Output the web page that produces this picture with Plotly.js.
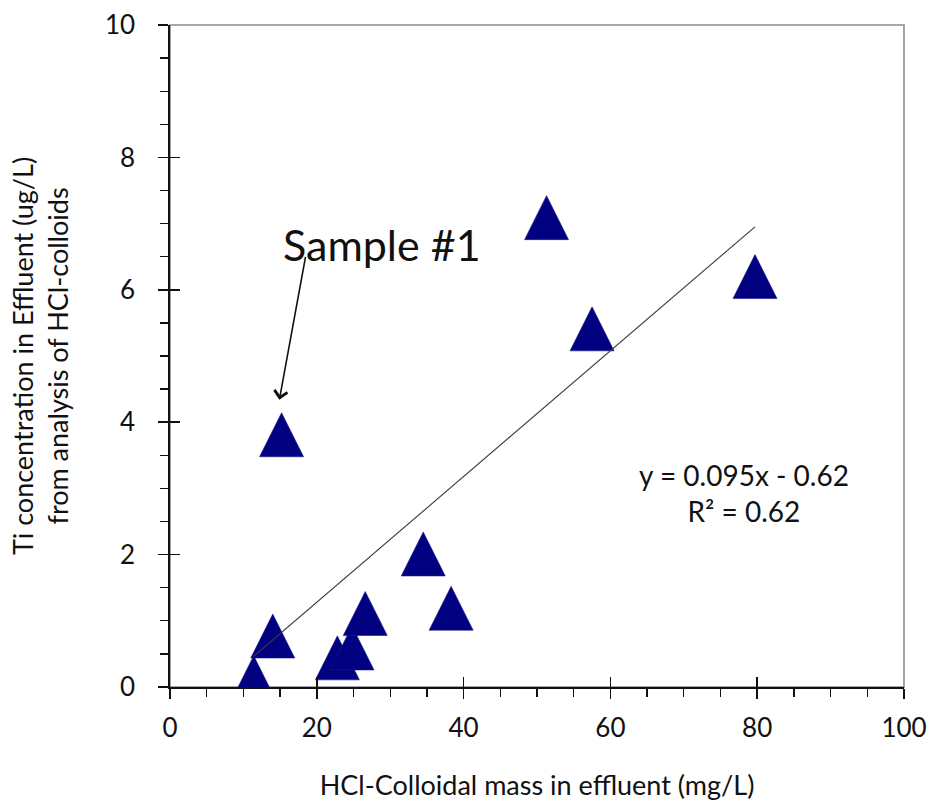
<!DOCTYPE html>
<html>
<head>
<meta charset="utf-8">
<script src="https://cdn.plot.ly/plotly-3.0.1.min.js"></script>
<style>
  html, body { margin: 0; padding: 0; background: #fff; }
  #chart { width: 933px; height: 805px; }
</style>
</head>
<body>
<div id="chart"></div>
<script>
// HCl-colloid mass in effluent (mg/L) and Ti found in those colloids (ug/L)
const massMgL = [11.4, 14.0, 15.2, 22.8, 24.8, 26.6, 34.5, 38.3, 51.3, 57.5, 79.7];
const tiUgL   = [0.14, 0.77, 3.81, 0.44, 0.59, 1.11, 2.01, 1.19, 7.09, 5.41, 6.20];

// Linear fit reported on the chart
const fitSlope = 0.095;
const fitIntercept = -0.62;
const fitR2 = 0.62;

// Sample #1 is the outlier marked with an arrow
const sample1Index = 2;

const xTickVals = [0, 20, 40, 60, 80, 100];
const yTickVals = [0, 2, 4, 6, 8, 10];

const FONT = 'Lato, "Open Sans", sans-serif';
const INK = '#111111';
const NAVY = '#000080';

const xMin = Math.min(...massMgL);
const xMax = Math.max(...massMgL);
const fitX = [xMin, xMax];
const fitY = fitX.map(v => fitSlope * v + fitIntercept);

const markerSize = 44;

const points = {
  type: 'scatter',
  mode: 'markers',
  x: massMgL,
  y: tiUgL,
  xaxis: 'x',
  yaxis: 'y',
  marker: {
    // upward triangle centred on the point, as tall as it is wide
    symbol: 'arrow-down',
    angle: 180,
    standoff: markerSize / 2,
    size: markerSize,
    color: NAVY,
    line: { width: 0.6, color: '#1a1a8c' }
  },
  hoverinfo: 'x+y',
  showlegend: false
};

const trend = {
  type: 'scatter',
  mode: 'lines',
  x: fitX,
  y: fitY,
  xaxis: 'x2',
  yaxis: 'y2',
  line: { color: '#3a3a3a', width: 1.1 },
  hoverinfo: 'skip',
  showlegend: false
};

const fmtSigned = v => (v < 0 ? ' - ' + Math.abs(v) : ' + ' + v);

const layout = {
  width: 933,
  height: 805,
  margin: { l: 170, r: 29, t: 25, b: 118, pad: 0 },
  paper_bgcolor: '#ffffff',
  plot_bgcolor: '#ffffff',
  font: { family: FONT, color: INK, size: 26 },
  showlegend: false,
  xaxis: {
    range: [0, 100],
    tickmode: 'array',
    tickvals: xTickVals,
    ticktext: xTickVals.map(String),
    ticks: 'outside',
    ticklen: 10,
    tickwidth: 1.5,
    tickcolor: INK,
    minor: { dtick: 5, ticks: 'outside', ticklen: 8, tickwidth: 1.3, tickcolor: INK, showgrid: false },
    showline: true,
    linecolor: INK,
    linewidth: 1.6,
    showgrid: false,
    zeroline: false,
    ticklabelstandoff: 7,
    tickfont: { family: FONT, size: 26, color: INK },
    title: {
      text: 'HCl-Colloidal mass in effluent (mg/L)',
      font: { family: FONT, size: 27, color: INK },
      standoff: 34
    },
    automargin: false,
    fixedrange: true
  },
  yaxis: {
    range: [0, 10],
    tickmode: 'array',
    tickvals: yTickVals,
    ticktext: yTickVals.map(String),
    ticks: 'outside',
    ticklen: 10,
    tickwidth: 1.5,
    tickcolor: INK,
    minor: { dtick: 0.5, ticks: 'outside', ticklen: 8, tickwidth: 1.3, tickcolor: INK, showgrid: false },
    showline: true,
    linecolor: INK,
    linewidth: 1.6,
    showgrid: false,
    zeroline: false,
    ticklabelstandoff: 18,
    tickfont: { family: FONT, size: 26, color: INK },
    title: {
      text: 'Ti concentration in Effluent (ug/L)<br>from analysis of HCl-colloids',
      font: { family: FONT, size: 27, color: INK },
      standoff: 28
    },
    automargin: false,
    fixedrange: true
  },
  // twin axes carrying the inner half of the major ticks
  xaxis2: {
    overlaying: 'x',
    anchor: 'y2',
    side: 'bottom',
    range: [0, 100],
    tickmode: 'array',
    tickvals: xTickVals,
    ticks: 'inside',
    ticklen: 10,
    tickwidth: 1.5,
    tickcolor: INK,
    showticklabels: false,
    showline: false,
    showgrid: false,
    zeroline: false,
    fixedrange: true
  },
  yaxis2: {
    overlaying: 'y',
    anchor: 'x2',
    side: 'left',
    range: [0, 10],
    tickmode: 'array',
    tickvals: yTickVals,
    ticks: 'inside',
    ticklen: 10,
    tickwidth: 1.5,
    tickcolor: INK,
    showticklabels: false,
    showline: false,
    showgrid: false,
    zeroline: false,
    fixedrange: true
  },
  shapes: [
    // light frame around the plot area
    {
      type: 'rect', xref: 'paper', yref: 'paper',
      x0: 0, x1: 1, y0: 0, y1: 1,
      line: { color: '#8c8c8c', width: 1.6 },
      fillcolor: 'rgba(0,0,0,0)',
      layer: 'below'
    }
  ],
  annotations: [
    {
      xref: 'x', yref: 'y',
      x: 78.2, y: 2.93,
      text: 'y = ' + fitSlope.toFixed(3) + 'x' + fmtSigned(fitIntercept) + '<br>R\u00b2 = ' + fitR2.toFixed(2),
      showarrow: false,
      align: 'center',
      font: { family: FONT, size: 28, color: INK }
    },
    {
      xref: 'x', yref: 'y',
      x: 28.9, y: 6.68,
      text: 'Sample #1',
      showarrow: false,
      font: { family: FONT, size: 43, color: INK }
    },
    {
      xref: 'x', yref: 'y',
      x: massMgL[sample1Index] - 0.3, y: tiUgL[sample1Index] + 0.53,
      axref: 'x', ayref: 'y',
      ax: 18.5, ay: 6.52,
      text: '',
      showarrow: true,
      arrowhead: 4,
      arrowsize: 1.6,
      arrowwidth: 1.6,
      arrowcolor: INK,
      standoff: 0
    }
  ]
};

Plotly.newPlot('chart', [points, trend], layout, { staticPlot: true, displayModeBar: false });
</script>
</body>
</html>
